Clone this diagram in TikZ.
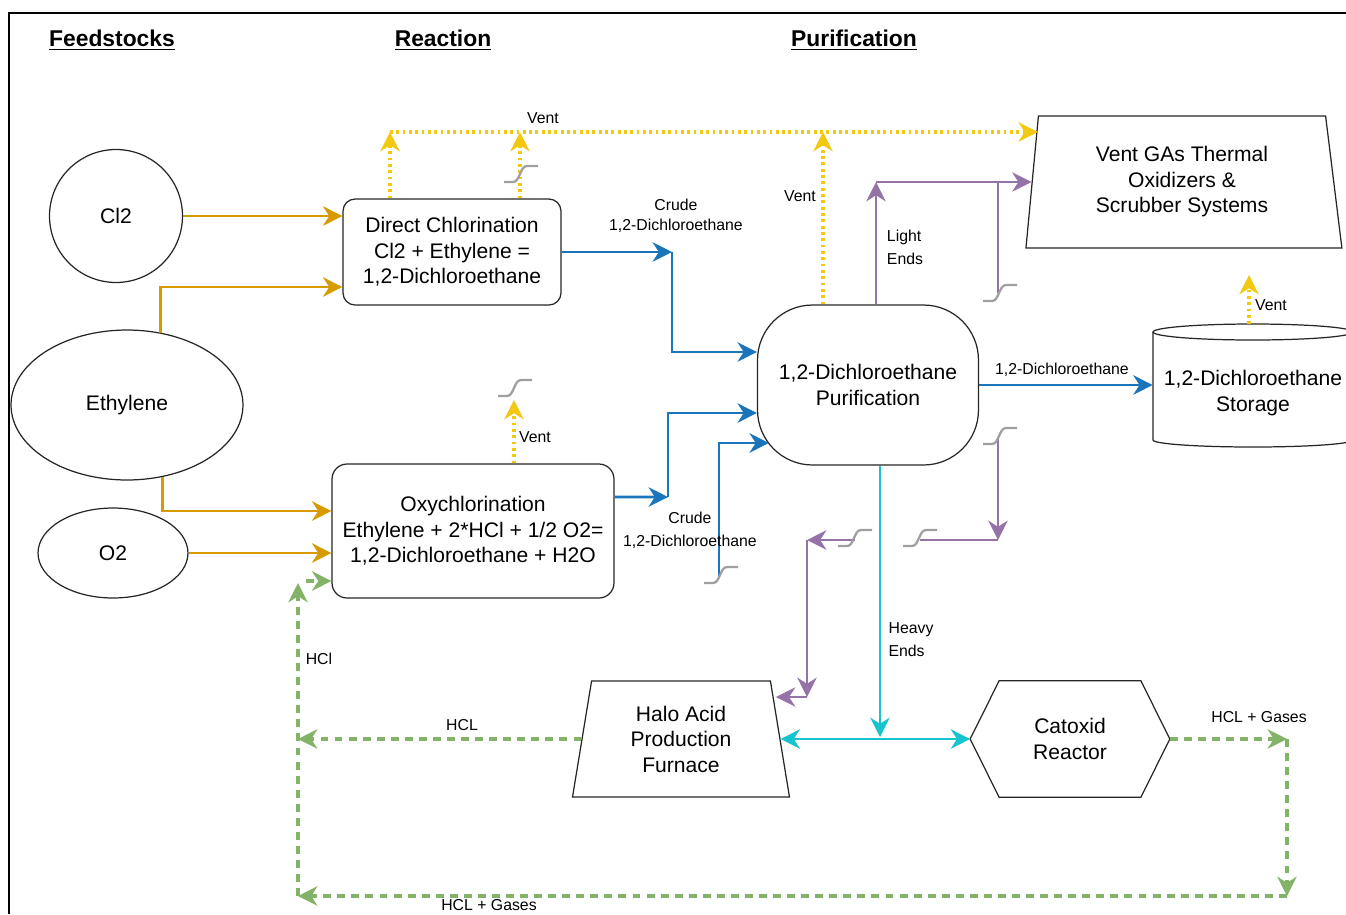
\documentclass[tikz,border=0pt]{standalone}
\usepackage{fontspec}
\setmainfont{Liberation Sans}
\usetikzlibrary{shapes.geometric,arrows.meta}

\definecolor{feedorange}{HTML}{D79B00}
\definecolor{ventyellow}{HTML}{F2C811}
\definecolor{prodblue}{HTML}{1A75BB}
\definecolor{lightpurple}{HTML}{9673A6}
\definecolor{heavycyan}{HTML}{17C4CE}
\definecolor{hclgreen}{HTML}{82B366}

\begin{document}
\begin{tikzpicture}[x=0.02cm,y=-0.02cm,
  every node/.style={font=\fontsize{12}{14.5}\selectfont, align=center},
  head/.style={font=\fontsize{13}{15}\selectfont\bfseries},
  lbl/.style={font=\fontsize{9}{11.3}\selectfont, inner sep=0pt},
  unit/.style={draw=black!85, line width=0.7pt, fill=white, inner sep=0pt},
  box/.style={unit, rounded corners=0.24cm},
  unitline/.style={draw=black!85, line width=0.7pt},
  flowtip/.style={-{Stealth[length=11pt,width=11pt,inset=3.5pt]}},
  bothtip/.style={{Stealth[length=11pt,width=11pt,inset=3.5pt]}-{Stealth[length=11pt,width=11pt,inset=3.5pt]}},
  feed/.style={draw=feedorange, line width=1.6pt, flowtip},
  vent/.style={draw=ventyellow, line width=1.8pt, dash pattern=on 1.6pt off 2pt, flowtip},
  prod/.style={draw=prodblue, line width=1.6pt, flowtip},
  light/.style={draw=lightpurple, line width=1.6pt, flowtip},
  heavy/.style={draw=heavycyan, line width=1.6pt},
  hcl/.style={draw=hclgreen, line width=1.8pt, dash pattern=on 4.5pt off 3.5pt, flowtip},
  brk/.pic={\draw[gray!75, line width=1.3pt] (-17,8) -- (-8,8) .. controls (-1,8) and (-1,-8) .. (6,-8) -- (17,-8);}]

  % Frame
  \useasboundingbox (0,0) rectangle (1346,914);
  \draw[line width=1.1pt] (9,914) -- (9,13) -- (1346,13);

  % Headers
  \node[head] (hfeed) at (112,40) {\underline{Feedstocks}};
  \node[head] (hreac) at (443,40) {\underline{Reaction}};
  \node[head] (hpur) at (854,40) {\underline{Purification}};

  % Feedstocks
  \node[unit, circle, minimum size=2.66cm] (cl) at (116,216) {Cl2};
  \node[unit, ellipse, minimum width=4.64cm, minimum height=3cm] (eth) at (127,405) {Ethylene};
  \node[unit, ellipse, minimum width=3cm, minimum height=1.8cm] (otwo) at (113,553) {O2};

  % Reaction
  \node[box, minimum width=4.36cm, minimum height=2.12cm] (dc) at (452,252)
    {Direct Chlorination\\Cl2 + Ethylene =\\1,2-Dichloroethane};
  \node[box, rounded corners=0.3cm, minimum width=5.64cm, minimum height=2.68cm] (oxy) at (473,531)
    {Oxychlorination\\Ethylene + 2*HCl + 1/2 O2=\\1,2-Dichloroethane + H2O};

  % Purification
  \node[box, rounded corners=1.1cm, minimum width=4.42cm, minimum height=3.2cm] (pur) at (868,385)
    {1,2-Dichloroethane\\Purification};
  \node[unit, trapezium, trapezium left angle=80, trapezium right angle=77, trapezium stretches body,
    minimum width=6.32cm, minimum height=2.64cm] (vgas) at (1182,182)
    {Vent GAs Thermal\\Oxidizers \&\\Scrubber Systems};
  \node[unit, trapezium, trapezium angle=74, trapezium stretches body,
    minimum width=4.34cm, minimum height=2.32cm] (halo) at (681,739)
    {Halo Acid\\Production\\Furnace};
  \node[minimum width=3.98cm, minimum height=2.32cm, inner sep=0pt] (cat) at (1070,739) {Catoxid\\Reactor};
  \draw[unitline] (cat.west) -- ([xshift=0.58cm]cat.north west) -- ([xshift=-0.58cm]cat.north east)
    -- (cat.east) -- ([xshift=-0.58cm]cat.south east) -- ([xshift=0.58cm]cat.south west) -- cycle;

  % Storage tank
  \draw[unitline, fill=white] (1153,332) -- (1153,440)
    arc[start angle=180, end angle=360, x radius=2cm, y radius=0.14cm] -- (1353,332);
  \draw[unitline, fill=white] (1253,332) ellipse [x radius=2cm, y radius=0.16cm];
  \node[minimum width=4cm, inner sep=0pt] (stor) at (1253,393) {1,2-Dichloroethane\\Storage};
  \coordinate (stortop) at (1249,324);

  % Feed lines
  \draw[feed] (cl.east) -- (cl.east -| dc.west);
  \draw[feed] (eth.65) |- ([yshift=-0.7cm]dc.west);
  \draw[feed] (eth.-64) |- ([yshift=0.4cm]oxy.west);
  \draw[feed] (otwo.east) -- (otwo.east -| oxy.west);

  % Vents
  \coordinate (v1) at (390,132);
  \coordinate (v2) at (520,132);
  \coordinate (v3) at (823,132);
  \coordinate (v4) at (514,400);
  \coordinate (v5) at (1249,275);
  \draw[vent] (v1 |- dc.north) -- (v1);
  \draw[vent] (v2 |- dc.north) -- (v2);
  \draw[vent] (v3 |- pur.north) -- (v3);
  \draw[vent] (v1) -- (v1 -| vgas.top left corner);
  \draw[vent] (v4 |- oxy.north) -- (v4);
  \draw[vent] (stortop) -- (v5);
  \node[lbl] (lvent1) at (543,118) {Vent};
  \node[lbl] (lvent2) at (800,196) {Vent};
  \node[lbl] (lvent3) at (535,437) {Vent};
  \node[lbl] (lvent4) at (1271,305) {Vent};

  % Crude product
  \coordinate (b1) at (672,252);
  \coordinate (b2) at (668,497);
  \coordinate (b3) at (719,577);
  \draw[prod] (dc.east) -- (b1);
  \draw[prod] (b1) |- ([yshift=0.66cm]pur.west);
  \draw[prod] ([yshift=0.68cm]oxy.east) -- (b2);
  \draw[prod] (b2) |- ([yshift=-0.56cm]pur.west);
  \draw[prod] (b3) |- ([xshift=0.24cm,yshift=-1.16cm]pur.west);
  \draw[prod] (pur.east) -- (pur.east -| stor.west);
  \node[lbl] (lcrude1) at (676,216) {Crude\\1,2-Dichloroethane};
  \node[lbl, font=\fontsize{9}{13}\selectfont] (lcrude2) at (690,530) {Crude\\1,2-Dichloroethane};
  \node[lbl] (ldce) at (1062,370) {1,2-Dichloroethane};

  % Light ends
  \coordinate (p1) at (876,182);
  \coordinate (p2) at (998,182);
  \coordinate (p3) at (998,293);
  \coordinate (p4) at (998,437);
  \coordinate (p5) at (998,540);
  \coordinate (p6) at (920,540);
  \coordinate (p7) at (855,540);
  \coordinate (p8) at (807,540);
  \coordinate (p9) at (807,697);
  \draw[light] (p1 |- pur.north) -- (p1);
  \draw[light] (p1) -- (vgas.left side);
  \draw[light, -] (p2) -- (p3);
  \draw[light] (p4) -- (p5);
  \draw[light, -] (p5) -- (p6);
  \draw[light] (p7) -- (p8);
  \draw[light] (p8) -- (p9);
  \draw[light] (p9) -- ([xshift=0.1cm]p9 -| halo.top right corner);
  \node[lbl, align=left, font=\fontsize{9}{13}\selectfont] (llight) at (905,247) {Light\\Ends};

  % Heavy ends
  \coordinate (c1) at (880,737);
  \draw[heavy, flowtip] (c1 |- pur.south) -- (c1);
  \draw[heavy, bothtip] (halo.right side) -- (cat.west);
  \node[lbl, align=left, font=\fontsize{9}{13}\selectfont] (lheavy) at (911,640) {Heavy\\Ends};

  % HCl recycle
  \coordinate (g1) at (1287,739);
  \coordinate (g2) at (1287,896);
  \coordinate (g3) at (298,896);
  \coordinate (g4) at (298,583);
  \coordinate (g5) at (306,581);
  \draw[hcl] (cat.east) -- (g1);
  \draw[hcl] (g1) -- (g2);
  \draw[hcl] (g2) -- (g3);
  \draw[hcl] (g3) -- (g4);
  \draw[hcl] (g5) -- (g5 -| oxy.west);
  \draw[hcl] (halo.left side) -- (g3 |- halo.left side);
  \node[lbl] (lhcl1) at (319,659) {HCl};
  \node[lbl] (lhcl2) at (462,725) {HCL};
  \node[lbl] (lgas1) at (1259,717) {HCL + Gases};
  \node[lbl] (lgas2) at (489,905) {HCL + Gases};

  % Line breaks
  \pic (k1) at (521,174) {brk};
  \pic (k2) at (515,388) {brk};
  \pic (k3) at (721,575) {brk};
  \pic (k4) at (1000,293) {brk};
  \pic (k5) at (1000,436) {brk};
  \pic (k6) at (920,538) {brk};
  \pic (k7) at (855,538) {brk};
\end{tikzpicture}
\end{document}
